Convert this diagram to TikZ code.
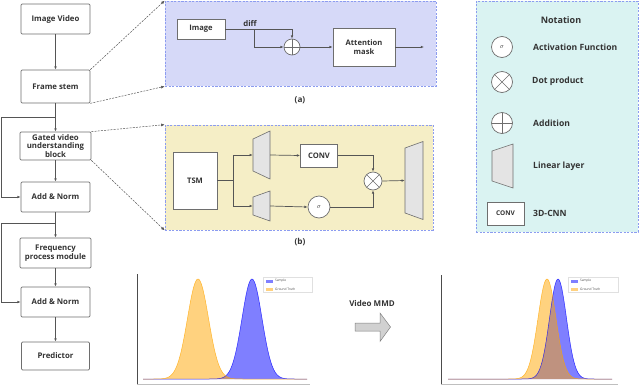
\documentclass[tikz,border=0pt]{standalone}
\usepackage{fontspec}
\setmainfont{Open Sans}
\usetikzlibrary{arrows.meta,calc}
\definecolor{lineg}{HTML}{555555}
\definecolor{boxg}{HTML}{6E6E6E}
\definecolor{pafill}{HTML}{D6D9F8}
\definecolor{pbfill}{HTML}{F5EEC6}
\definecolor{pnfill}{HTML}{DAF3F2}
\definecolor{dashb}{HTML}{8C9CF0}
\definecolor{linfill}{HTML}{E4E4E4}
\definecolor{txt}{HTML}{333333}
\definecolor{gbl}{HTML}{0000FF}
\definecolor{gor}{HTML}{FFA500}
\tikzset{
  fbox/.style={draw=boxg, fill=white, line width=0.7pt, rounded corners=1.2pt, align=center,
    font=\fontsize{7.8}{8.8}\selectfont\bfseries, text=txt, inner sep=0pt},
  sbox/.style={draw=boxg, fill=white, line width=0.7pt, align=center,
    font=\fontsize{7.6}{8.8}\selectfont\bfseries, text=txt, inner sep=0pt},
  arr/.style={draw=lineg, line width=0.7pt, -{Latex[length=3.2pt,width=2.6pt]}},
  ln/.style={draw=lineg, line width=0.7pt},
  dsh/.style={draw=lineg, line width=0.5pt, dash pattern=on 2pt off 1.2pt, -{Latex[length=3.5pt,width=3pt]}},
  panel/.style={line width=0.7pt, draw=dashb, dash pattern=on 2.2pt off 1.4pt, inner sep=0pt},
  plusc/.style={circle, draw=boxg, fill=white, line width=0.7pt, inner sep=0pt, minimum size=#1,
    path picture={\draw[boxg, line width=0.6pt] (path picture bounding box.north) -- (path picture bounding box.south)
      (path picture bounding box.west) -- (path picture bounding box.east);}},
  timesc/.style={circle, draw=boxg, fill=white, line width=0.7pt, inner sep=0pt, minimum size=#1,
    path picture={\draw[boxg, line width=0.6pt] (path picture bounding box.north west) -- (path picture bounding box.south east)
      (path picture bounding box.north east) -- (path picture bounding box.south west);}},
  sigc/.style={circle, draw=boxg, fill=white, line width=0.7pt, inner sep=0pt, minimum size=#1,
    font=\fontsize{6.5}{6.5}\selectfont, text=txt},
  lbl/.style={font=\fontsize{7.8}{8.8}\selectfont\bfseries, text=txt, inner sep=0pt},
  nlbl/.style={font=\fontsize{8.6}{9.6}\selectfont\bfseries, text=txt, inner sep=0pt, anchor=west},
  leg/.style={font=\fontsize{3.2}{3.5}\selectfont, text=black!70, inner sep=0pt, anchor=west},
  lin/.style={draw=boxg, fill=linfill, line width=0.6pt},
}
% #1 name, #2 x left, #3 x right, #4 y centre, #5 half height left, #6 half height right
\newcommand\linlayer[6]{%
  \filldraw[lin] (#2,#4-#5) -- (#3,#4-#6) -- (#3,#4+#6) -- (#2,#4+#5) -- cycle;
  \node[inner sep=0pt, minimum width=#3-#2, minimum height=2*#6] (#1) at ({(#2+#3)/2},#4) {};
}
\newcommand\gaussfill[4]{% #1 colour, #2 mean, #3 sigma, #4 domain
  \fill[#1, opacity=0.5] plot[domain=#4, samples=160, smooth] (\x, {379-100*exp(-((\x-#2)^2)/(2*#3*#3))}) -- cycle;
}
\newcommand\gaussline[4]{%
  \draw[#1, opacity=0.75, line width=0.5pt] plot[domain=#4, samples=160, smooth] (\x, {379-100*exp(-((\x-#2)^2)/(2*#3*#3))});
}
\begin{document}
\begin{tikzpicture}[x=1pt, y=-1pt]
\useasboundingbox (0,0) rectangle (640,386);

% ---------- panels ----------
\node[panel, fill=pafill, minimum width=271, minimum height=85] (pa) at (300.5,43.5) {};
\node[panel, fill=pbfill, minimum width=268, minimum height=105] (pb) at (299,177.5) {};
\node[panel, fill=pnfill, minimum width=162, minimum height=231] (pn) at (557,116.5) {};

% ---------- left flow ----------
\node[fbox, minimum width=69, minimum height=30] (iv) at (55.5,19) {Image Video};
\node[fbox, minimum width=69, minimum height=33] (fs) at (55.5,86.5) {Frame stem};
\node[fbox, minimum width=71, minimum height=28, font=\fontsize{7.8}{8.6}\selectfont\bfseries] (gv) at (55.5,146) {Gated video\\understanding\\block};
\node[fbox, minimum width=69, minimum height=30] (an1) at (55.5,197) {Add \& Norm};
\node[fbox, minimum width=71, minimum height=30] (fp) at (55.5,253) {Frequency\\process module};
\node[fbox, minimum width=69, minimum height=30] (an2) at (55.5,302) {Add \& Norm};
\node[fbox, minimum width=68, minimum height=28] (pr) at (55.5,356) {Predictor};

\draw[arr] (iv) -- (fs);
\draw[arr] (fs) -- (gv);
\draw[arr] (gv) -- (an1);
\draw[arr] (an1) -- (fp);
\draw[arr] (fp) -- (an2);
\draw[arr] (an2) -- (pr);
\coordinate (s1) at (55.5,117);
\coordinate (l1) at (1,117);
\coordinate (s2) at (55.5,223);
\coordinate (l2) at (1,223);
\draw[ln] (s1) -- (l1);
\draw[arr] (l1) |- (an1.west);
\draw[ln] (s2) -- (l2);
\draw[arr] (l2) |- (an2.west);

% dashed zoom lines
\draw[dsh] (fs.north east) -- (pa.north west);
\draw[dsh] (fs.south east) -- (pa.south west);
\draw[dsh] (gv.north east) -- (pb.north west);
\draw[dsh] (gv.south east) -- (pb.south west);

% ---------- panel (a) ----------
\node[sbox, minimum width=48, minimum height=20] (img) at (201,29) {Image};
\node[plusc=16] (plus) at (292,47) {};
\node[sbox, minimum width=62, minimum height=38] (att) at (364,47) {Attention\\mask};
\coordinate (b1) at (254,29);
\coordinate (o1) at (424,47);
\draw[arr] (img.east) -| (plus.north);
\node[lbl] (diff) at (250,23.5) {diff};
\draw[arr] (b1) |- (plus.west);
\draw[arr] (plus.east) -- (att.west);
\draw[arr] (att.east) -- (o1);
\node[lbl, font=\fontsize{8.2}{9}\selectfont\bfseries] (la) at (300,100) {(a)};

% ---------- panel (b) ----------
\node[sbox, minimum width=44, minimum height=57] (tsm) at (195,180.5) {TSM};
\linlayer{t1}{253}{270}{155}{16}{24}
\linlayer{t2}{253}{270}{206}{9}{15}
\linlayer{t3}{405}{423}{180.5}{32.5}{39}
\node[sbox, minimum width=37, minimum height=23] (conv) at (319,155.5) {CONV};
\node[timesc=18] (times) at (373,181) {};
\node[sigc=22] (sig) at (319,207) {$\sigma$};
\coordinate (sp) at (233,180.5);
\draw[ln] (tsm.east) -- (sp);
\draw[arr] (sp) |- (t1.west);
\draw[arr] (sp) |- (t2.west);
\draw[arr] (t1.east) -- (conv.west);
\draw[arr] (t2.east) -- (sig.west);
\draw[arr] (conv.east) -| (times.north);
\draw[arr] (sig.east) -| (times.south);
\draw[arr] (times.east) -- (t3.west);
\node[lbl, font=\fontsize{8.2}{9}\selectfont\bfseries] (lb) at (300,242) {(b)};

% ---------- notation ----------
\node[lbl, font=\fontsize{9}{10}\selectfont\bfseries] (nt) at (561,20) {Notation};
\node[sigc=21] (nsig) at (502,47) {$\sigma$};
\node[nlbl] (nsigt) at (533,47) {Activation Function};
\node[timesc=21] (ntim) at (502,82) {};
\node[nlbl] (ntimt) at (532,81) {Dot product};
\node[plusc=21] (nplus) at (502,123) {};
\node[nlbl] (nplust) at (533,123) {Addition};
\linlayer{nlin}{492}{513}{166}{15}{22}
\node[nlbl] (nlint) at (533,166) {Linear layer};
\node[sbox, minimum width=37, minimum height=23, font=\fontsize{6.5}{7}\selectfont\bfseries] (nconv) at (505.5,213.5) {CONV};
\node[nlbl] (nconvt) at (533,213) {3D-CNN};

% ---------- plots ----------
% left plot
\draw[black!25, line width=0.5pt] (137,384) -- (310,384);
\draw[black!70, line width=0.6pt] (137,274) -- (137,384);
\gaussfill{gbl}{252}{10}{143:307}
\gaussfill{gor}{198}{10.5}{143:307}
\gaussline{gbl}{252}{10}{143:307}
\gaussline{gor}{198}{10.5}{143:307}
\node[draw=black!12, fill=white, line width=0.3pt, minimum width=49, minimum height=15, inner sep=0pt] (lg1) at (287.5,284.5) {};
\fill[gbl, opacity=0.5] (265.5,279.5) rectangle (272.5,282.5);
\fill[gor, opacity=0.5] (265.5,287.5) rectangle (272.5,290.5);
\node[leg] (lg1a) at (275,281) {Sample};
\node[leg] (lg1b) at (275,289) {Ground Truth};

% arrow + label
\node[lbl, font=\fontsize{8}{9}\selectfont\bfseries] (mmd) at (372,303) {Video MMD};
\filldraw[draw=black!50, fill=black!18, line width=0.5pt]
  (355,323) -- (380,323) -- (380,313) -- (390.5,327) -- (380,341.5) -- (380,331) -- (355,331) -- cycle;

% right plot
\draw[black!25, line width=0.5pt] (441,384) -- (618,384);
\draw[black!70, line width=0.6pt] (441,275) -- (441,384);
\gaussfill{gbl}{558}{8.5}{448:612}
\gaussfill{gor}{547}{9}{448:612}
\gaussline{gbl}{558}{8.5}{448:612}
\gaussline{gor}{547}{9}{448:612}
\node[draw=black!12, fill=white, line width=0.3pt, minimum width=50, minimum height=15, inner sep=0pt] (lg2) at (593,284.5) {};
\fill[gbl, opacity=0.5] (570.5,279.5) rectangle (577.5,282.5);
\fill[gor, opacity=0.5] (570.5,287.5) rectangle (577.5,290.5);
\node[leg] (lg2a) at (580,281) {Sample};
\node[leg] (lg2b) at (580,289) {Ground Truth};
\end{tikzpicture}
\end{document}
